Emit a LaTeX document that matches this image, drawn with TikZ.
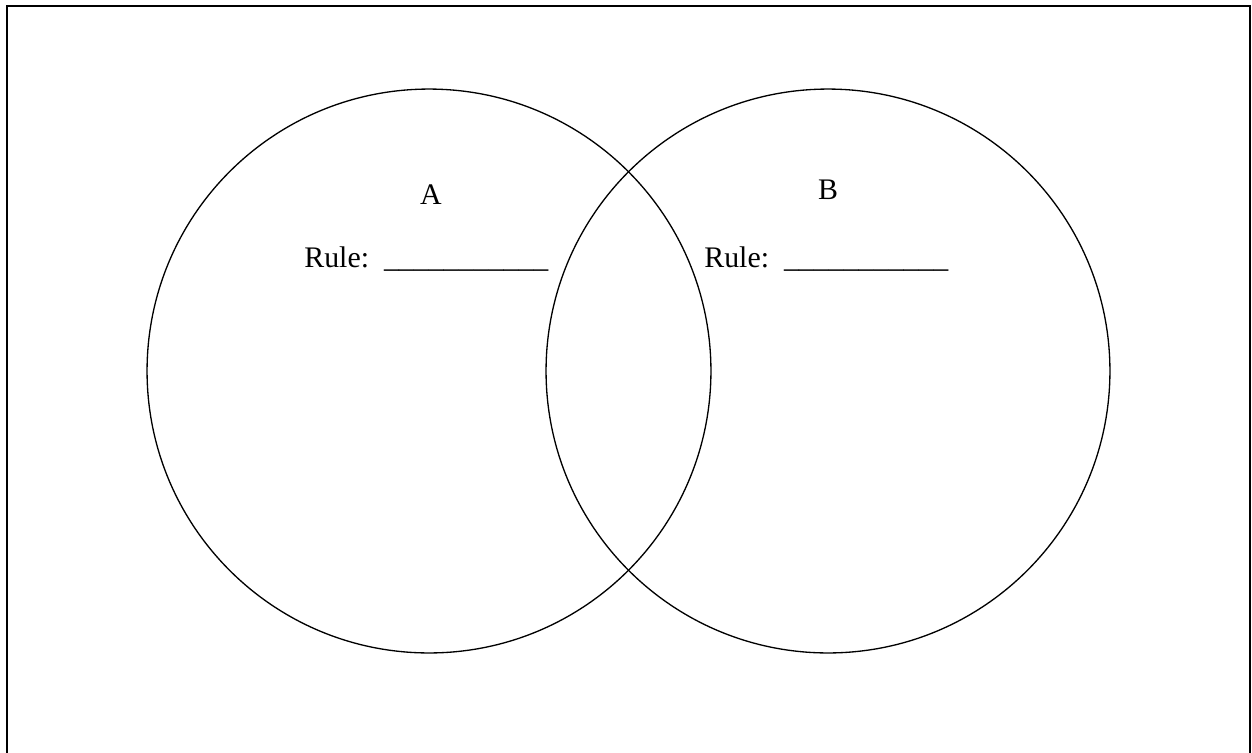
\documentclass[tikz,border=0pt]{standalone}
\usepackage{fontspec}
\setmainfont{Liberation Serif}
\usetikzlibrary{positioning}
\newcommand{\VennFont}{\fontsize{17}{20}\selectfont}
\newcommand{\RuleBlank}{\_\_\_\_\_\_\_\_\_\_\_}
\tikzset{
  every node/.style={align=center},
  line cap=round,
  %% frame
  frameLine/.style={
    draw=black,
    line width=1.15pt,
    line cap=rect,
  },
  %% set circles
  vennCirc/.style={
    circle,
    draw=black,
    line width=0.75pt,
    inner sep=0pt,
    minimum size=11.28cm,
  },
  %% labels
  setLbl/.style={
    font=\VennFont,
    inner sep=0pt,
    anchor=base,
  },
  ruleLbl/.style={
    font=\VennFont,
    inner sep=0pt,
    anchor=base west,
  },
}

\begin{document}
\begin{tikzpicture}[x=0.02cm, y=-0.02cm]

\useasboundingbox (0,0) rectangle (1252,752);

%% ── Frame (open at the bottom) ─────────────────────────────────────────────
\coordinate (FBL) at (7,752);
\coordinate (FTL) at (7,6);
\coordinate (FTR) at (1250,6);
\coordinate (FBR) at (1250,752);
\draw[frameLine] (FBL) -- (FTL) -- (FTR) -- (FBR);

%% ── Sets ───────────────────────────────────────────────────────────────────
\node[vennCirc] (SetA) at (429,371) {};
\node[vennCirc] (SetB) at (828,371) {};

%% ── Labels ─────────────────────────────────────────────────────────────────
\node[setLbl] (LblA) at (431,204) {A};
\node[setLbl] (LblB) at (828,199) {B};

\node[ruleLbl] (RuleA) at (304,267) {Rule:\ \ \RuleBlank};
\node[ruleLbl] (RuleB) at (704,267) {Rule:\ \ \RuleBlank};

\end{tikzpicture}
\end{document}
